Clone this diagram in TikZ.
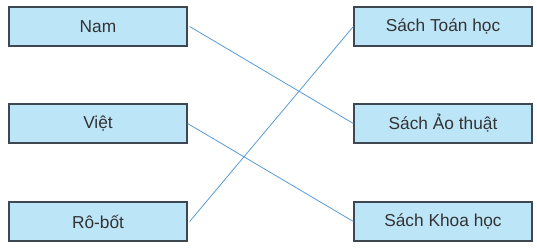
\documentclass[tikz,border=0pt]{standalone}
\usepackage{fontspec}
\setmainfont{Liberation Sans}
\definecolor{boxfill}{HTML}{BDE5F8}
\definecolor{boxline}{HTML}{3E4852}
\definecolor{linkcol}{HTML}{5A9BD4}
\definecolor{txt}{HTML}{333333}
\begin{document}
\begin{tikzpicture}[x=1pt,y=-1pt,
  item/.style={draw=boxline, line width=1.3pt, fill=boxfill, minimum width=178pt, minimum height=39pt, inner sep=0pt, text=txt, font=\fontsize{17.3}{20}\selectfont},
  link/.style={draw=linkcol, line width=0.8pt}]
\useasboundingbox (0,0) rectangle (537,249);
\node[item] (nam)   at (98,26.5)  {Nam};
\node[item] (viet)  at (98,123.5) {Việt};
\node[item] (robot) at (98,221.5) {Rô-bốt};
\node[item] (toan)  at (443,26.5)  {Sách Toán học};
\node[item] (aothuat) at (443,123.5) {Sách Ảo thuật};
\node[item] (khoa)  at (443,221.5) {Sách Khoa học};
\draw[link] ([xshift=2pt]nam.east) -- (aothuat.west);
\draw[link] (viet.east) -- (khoa.west);
\draw[link] ([xshift=2pt]robot.east) -- (toan.west);
\end{tikzpicture}
\end{document}
